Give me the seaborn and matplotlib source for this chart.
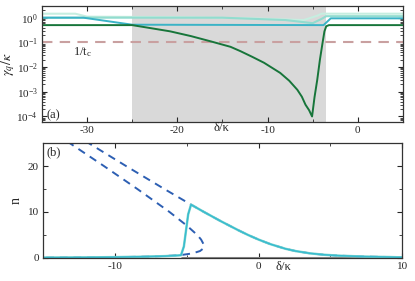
import seaborn as sns
import matplotlib.pyplot as plt
from matplotlib.ticker import MultipleLocator, LogLocator, NullFormatter

# ---- panel (a): gamma_q / kappa vs detuning ----
green_d = [-35, -25, -23, -20.8, -18.5, -16.3, -14.1, -13.0, -11.7, -10.4, -8.6, -7.6, -6.7, -6.2, -5.8,
           -5.4, -5.07, -4.8, -4.5, -4.2, -3.9, -3.7, -3.5, -3.2, 5]
green_g = [0.5, 0.5, 0.38, 0.28, 0.18, 0.11, 0.066, 0.044, 0.026, 0.015, 0.0058, 0.0028, 0.0012, 6.3e-4,
           3e-4, 1.8e-4, 1e-4, 6e-4, 3e-3, 0.02, 0.1, 0.28, 0.45, 0.5, 0.5]
teal_d = [-35, -30.4, -25, -3.8, -3.0, 5]
teal_g = [1.0, 1.0, 0.52, 0.5, 0.94, 0.94]
light_d = [-35, -15, -8, -5, -4, -3.5, 5]
light_g = [1.0, 1.0, 0.8, 0.6, 0.9, 1.15, 1.15]
pale_d = [-35, -31.3, -30, -20, -12, -6, -4.5, -4, 5]
pale_g = [1.45, 1.45, 1.1, 1.05, 0.95, 0.8, 1.2, 1.45, 1.45]
inv_tc = 0.1
shade = (-25, -3.5)

# ---- panel (b): photon number vs detuning ----
dash_left_d = [-14.12, -13.16, -10.77, -8.44, -6.60, -6.20, -4.98, -4.27, -4.0, -3.83, -3.81, -3.87,
               -4.08, -4.59, -5.25, -6.06, -7.66, -9.31, -11.95, -14.99]
dash_left_n = [27, 25, 20, 15, 10.9, 10, 7, 5, 4, 3, 2.5, 2, 1.5, 1, 0.7, 0.5, 0.3, 0.2, 0.12, 0.076]
dash_right_d = [-12.88, -11.84, -9.23, -6.56, -4.92, -4.70, -3.80, -2.63, -1.39, -0.73, 0.0, 0.83, 1.87,
                2.58, 3.59, 4.55, 5.56, 7.36, 9.11, 9.90, 10.5]
dash_right_n = [27, 25, 20, 15, 12, 11.6, 10, 8, 6, 5, 4, 3, 2, 1.5, 1, 0.7, 0.5, 0.3, 0.2, 0.17, 0.15]
solid_d = [-15, -12, -10, -8, -6.5, -5.6, -5.4, -5.2, -5.05, -4.9, -4.70, -3.80, -2.63, -1.39, -0.73,
           0.0, 0.83, 1.87, 2.58, 3.59, 4.55, 5.56, 7.36, 9.11, 10.0]
solid_n = [0.08, 0.12, 0.18, 0.28, 0.4, 0.55, 0.6, 2.5, 6, 9.5, 11.6, 10, 8, 6, 5,
           4, 3, 2, 1.5, 1, 0.7, 0.5, 0.3, 0.2, 0.12]
floor_d = [-5.3, 10]
floor_n = [0, 0]

sns.set_theme(style="ticks")
plt.rcParams['font.family'] = ['Liberation Serif', 'DejaVu Serif']
plt.rcParams['mathtext.fontset'] = 'stix'
plt.rcParams['font.size'] = 8
plt.rcParams['axes.unicode_minus'] = False
plt.rcParams['axes.edgecolor'] = '#333333'
plt.rcParams['axes.linewidth'] = 0.9

fig = plt.figure(figsize=(4.15, 2.81), dpi=100)
ax1 = fig.add_axes([0.101, 0.566, 0.870, 0.413])
ax2 = fig.add_axes([0.104, 0.082, 0.865, 0.409])

# panel (a)
ax1.axvspan(*shade, color='#d9d9d9', lw=0, zorder=0)
ax1.axhline(inv_tc, color='#c9a0a0', lw=1.5, dashes=(5, 3.5))
sns.lineplot(x=pale_d, y=pale_g, ax=ax1, sort=False, estimator=None, color='#c6eee0', lw=1.5)
sns.lineplot(x=light_d, y=light_g, ax=ax1, sort=False, estimator=None, color='#92dccf', lw=1.5)
sns.lineplot(x=teal_d, y=teal_g, ax=ax1, sort=False, estimator=None, color='#3ab3c6', lw=1.4)
sns.lineplot(x=green_d, y=green_g, ax=ax1, sort=False, estimator=None, color='#17753a', lw=1.4)
ax1.set_yscale('log')
ax1.set_xlim(-35, 5)
ax1.set_ylim(6e-5, 3)
ax1.xaxis.set_major_locator(MultipleLocator(10))
ax1.xaxis.set_minor_locator(MultipleLocator(5))
ax1.yaxis.set_major_locator(LogLocator(base=10, numticks=10))
ax1.yaxis.set_minor_locator(LogLocator(base=10, subs=range(2, 10), numticks=10))
ax1.yaxis.set_minor_formatter(NullFormatter())
ax1.set_ylabel(r'$\gamma_q/\kappa$', fontsize=10)
ax1.yaxis.set_label_coords(-0.068, 0.5)
ax1.text(0.496, -0.056, 'δ/κ', transform=ax1.transAxes, ha='center', va='center', fontsize=9)
ax1.text(-30.5, 0.04, '1/t$_\\mathregular{c}$', ha='center', va='center', fontsize=9)
ax1.text(0.014, 0.06, '(a)', transform=ax1.transAxes, ha='left', va='center', fontsize=9)

# panel (b)
sns.lineplot(x=floor_d, y=floor_n, ax=ax2, sort=False, estimator=None, color='#8a8a8a', lw=2.2)
sns.lineplot(x=dash_left_d, y=dash_left_n, ax=ax2, sort=False, estimator=None, color='#2d5fb3', lw=1.4,
             dashes=False).lines[-1].set_dashes((4, 3))
sns.lineplot(x=dash_right_d, y=dash_right_n, ax=ax2, sort=False, estimator=None, color='#2d5fb3', lw=1.4,
             dashes=False).lines[-1].set_dashes((4, 3))
sns.lineplot(x=solid_d, y=solid_n, ax=ax2, sort=False, estimator=None, color='#86d8d0', lw=1.8)
sns.lineplot(x=solid_d, y=solid_n, ax=ax2, sort=False, estimator=None, color='#38bccf', lw=1.1)
ax2.set_xlim(-15, 10)
ax2.set_ylim(0, 25)
ax2.xaxis.set_major_locator(MultipleLocator(10))
ax2.xaxis.set_minor_locator(MultipleLocator(5))
ax2.yaxis.set_major_locator(MultipleLocator(10))
ax2.yaxis.set_minor_locator(MultipleLocator(5))
ax2.set_ylabel('n', fontsize=10)
ax2.yaxis.set_label_coords(-0.058, 0.5)
ax2.text(0.668, -0.083, 'δ/κ', transform=ax2.transAxes, ha='center', va='center', fontsize=9)
ax2.text(0.01, 0.92, '(b)', transform=ax2.transAxes, ha='left', va='center', fontsize=9)

for ax in (ax1, ax2):
    ax.tick_params(which='both', direction='in', top=True, right=True, labelsize=8, pad=3)
    ax.tick_params(which='major', length=3.5, width=0.8)
    ax.tick_params(which='minor', length=2, width=0.6)

fig.savefig('out.png', dpi=100)
